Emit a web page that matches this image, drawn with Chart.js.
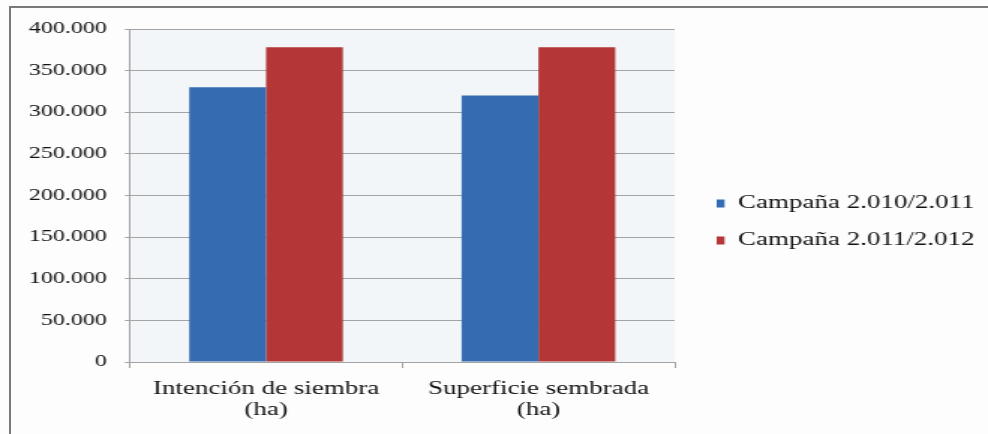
<!DOCTYPE html>
<html>
<head>
<meta charset="utf-8">
<script src="https://cdn.jsdelivr.net/npm/chart.js@4/dist/chart.umd.min.js"></script>
<style>
  html, body { margin: 0; padding: 0; background: #fdfdfd; }
  body { width: 988px; height: 434px; position: relative; overflow: hidden; }
  /* outer frame of the chart */
  #frame {
    position: absolute; left: 9px; top: 6px; width: 990px; height: 440px;
    border-left: 2px solid #7a7a7a; border-top: 2px solid #7a7a7a;
  }
  /* the source image was stretched horizontally, so is this */
  #wrap {
    position: absolute; left: 0; top: 0; width: 659px; height: 434px;
    transform: scaleX(1.4992); transform-origin: 0 0;
  }
</style>
</head>
<body>
<div id="frame"></div>
<div id="wrap"><canvas id="chart"></canvas></div>
<script>
const categories = [['Intención de siembra', '(ha)'], ['Superficie sembrada', '(ha)']];
const seriesNames = ['Campaña 2.010/2.011', 'Campaña 2.011/2.012'];
const campaign2010 = [330000, 320000];
const campaign2011 = [378000, 378000];
const yTicks = [0, 50000, 100000, 150000, 200000, 250000, 300000, 350000, 400000];

const colors = { blue: '#356cb1', red: '#b43636', grid: '#a3a3a3', text: '#111111' };

function fmt(v) {
  return String(v).replace(/\B(?=(\d{3})+(?!\d))/g, '.');
}

const plotBg = {
  id: 'plotBg',
  beforeDraw(chart) {
    const { ctx, chartArea: a } = chart;
    ctx.save();
    ctx.fillStyle = '#f3f6f9';
    ctx.fillRect(a.left, a.top, a.right - a.left, a.bottom - a.top);
    ctx.restore();
  }
};

new Chart(document.getElementById('chart'), {
  type: 'bar',
  data: {
    labels: categories,
    datasets: [
      { label: seriesNames[0], data: campaign2010, backgroundColor: colors.blue, borderWidth: 0 },
      { label: seriesNames[1], data: campaign2011, backgroundColor: colors.red, borderWidth: 0 }
    ]
  },
  options: {
    responsive: true,
    maintainAspectRatio: false,
    animation: false,
    categoryPercentage: 0.564,
    barPercentage: 1,
    layout: { padding: { top: 12.2, left: 7.3, right: 0, bottom: 2.2 } },
    plugins: {
      tooltip: { enabled: false },
      // empty title, only used as spacer above the plot
      title: { display: true, text: '', font: { size: 10, lineHeight: 1 }, padding: { top: 0, bottom: 6.8 } },
      legend: {
        position: 'right',
        maxWidth: 200,
        labels: {
          boxWidth: 5.3, boxHeight: 8, padding: 19,
          color: colors.text,
          font: { family: 'Liberation Serif', size: 18 }
        }
      }
    },
    scales: {
      x: {
        grid: { display: true, drawOnChartArea: false, color: colors.grid, tickLength: 6 },
        border: { color: colors.grid },
        ticks: {
          color: colors.text, padding: 10.3, maxRotation: 0,
          font: { family: 'Liberation Serif', size: 18, lineHeight: 1.2 }
        }
      },
      y: {
        min: 0, max: 400000,
        afterBuildTicks: s => { s.ticks = yTicks.map(v => ({ value: v })); },
        grid: { color: colors.grid, tickLength: 3.3 },
        border: { color: colors.grid },
        ticks: {
          color: colors.text, padding: 12,
          font: { family: 'Liberation Serif', size: 16 },
          callback: v => fmt(v)
        }
      },
      gap: {
        position: 'right',
        grid: { display: false },
        border: { display: false },
        ticks: { display: false },
        afterFit: s => { s.width = 9; }
      }
    }
  },
  plugins: [plotBg]
});
</script>
</body>
</html>
